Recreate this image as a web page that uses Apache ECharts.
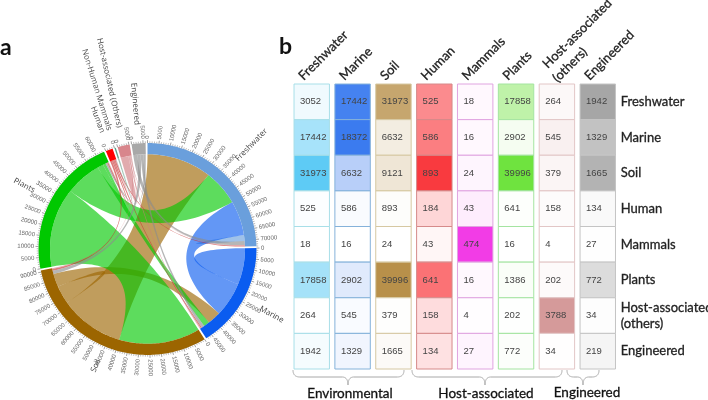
<!DOCTYPE html>
<html>
<head>
<meta charset="utf-8">
<style>html,body{margin:0;padding:0;background:#fff}#c{width:708px;height:400px}</style>
<script src="https://cdn.jsdelivr.net/npm/echarts@6/dist/echarts.min.js"></script>
</head>
<body>
<div id="c"></div>
<script>
// ---- data ----
const heatColumns = ['Freshwater','Marine','Soil','Human','Mammals','Plants','Host-associated\n(others)','Engineered'];
const heatRows = ['Freshwater','Marine','Soil','Human','Mammals','Plants','Host-associated\n(others)','Engineered'];
const chordNames = ['Freshwater','Marine','Soil','Human','Non-Human Mammals','Plants','Host-associated (Others)','Engineered'];
const freshwaterRow = [3052,17442,31973,525,18,17858,264,1942];
const marineRow     = [17442,18372,6632,586,16,2902,545,1329];
const soilRow       = [31973,6632,9121,893,24,39996,379,1665];
const humanRow      = [525,586,893,184,43,641,158,134];
const mammalsRow    = [18,16,24,43,474,16,4,27];
const plantsRow     = [17858,2902,39996,641,16,1386,202,772];
const hostRow       = [264,545,379,158,4,202,3788,34];
const engineeredRow = [1942,1329,1665,134,27,772,34,219];
const matrix = [freshwaterRow,marineRow,soilRow,humanRow,mammalsRow,plantsRow,hostRow,engineeredRow];
// clockwise order of the sectors round the ring
const ringOrder = [0,1,2,5,3,4,6,7];
// order in which the ribbons sit along each sector, clockwise
const sectorOrder = [
  [2,5,1,0,7,6,3,4],
  [1,0,2,5,7,3,6,4],
  [5,0,2,1,7,3,6,4],
  [2,5,1,0,3,6,7,4],
  [4,3,2,7,0,1,5,6],
  [2,0,1,5,7,3,6,4],
  [6,1,2,0,5,3,7,4],
  [0,2,1,5,7,3,6,4]
];
const ringColors = ['#6a9fdc','#0a5cf0','#9c6500','#ff0000','#5f9f86','#00c800','#d8868c','#a8a8a8'];
const linkColors = ['#6a9fdc','#0a5cf0','#9c6500','#c83030','#5f9f86','#00c800','#d07a80','#8c8c8c'];
const linkPriority = [1,2,3,5,6,4,7,8];
const cellMaxColors = ['#5ecbf5','#3b7bef','#b8904a','#f93a3f','#f23ce6','#6fe33f','#d59a9a','#a6a6a6'];
const cellBorders = ['#a8dfe8','#85b2da','#d6c8a2','#d68a8a','#e0a4e0','#a4e4a0','#e2c6c6','#c4c4c4'];

// ---- chord layout derived from the matrix ----
const totals = matrix.map(r => r.reduce((a,b)=>a+b,0));
const grand = totals.reduce((a,b)=>a+b,0);
const gapUnits = grand/352;
const axisMax = grand + gapUnits*8;
const starts = []; { let s = 0; ringOrder.forEach(i=>{ starts[i]=s; s+=totals[i]+gapUnits; }); }
// position of the link i->j inside sector i
const linkPos = matrix.map((r,i)=>{ const out=[]; let p=starts[i];
  sectorOrder[i].forEach(j=>{ out[j]=[p,p+r[j]]; p+=r[j]; }); return out; });
const ribbonData = [];
for (let i=0;i<8;i++) for (let j=i;j<8;j++) {
  let a=linkPos[i][j], b=linkPos[j][i];
  if (a[0]>b[0]) { const t=a; a=b; b=t; }
  const owner = linkPriority[i]>=linkPriority[j]?i:j;
  ribbonData.push({value:[a[0],a[1],b[0],b[1],owner,i===j?1:0], pr:linkPriority[owner]});
}
ribbonData.sort((x,y)=>x.pr-y.pr);
const ringData = totals.map((t,i)=>[starts[i],starts[i]+t,i]);
const tickData = [];
totals.forEach((t,i)=>{ for(let v=0;v<=t;v+=1000) tickData.push([starts[i]+v, v%5000===0?1:0, v]); });
const nameData = totals.map((t,i)=>[starts[i]+t/2,i]);

const R_OUT=109, R_IN=97.5, SQUASH=0.972;
function mapper(api){
  const c=api.coord([0,0]);
  return (r,u)=>{ const p=api.coord([r,u]); return [p[0], c[1]+(p[1]-c[1])*SQUASH]; };
}
function arcPts(pt,r,u0,u1){ const n=Math.max(1,Math.ceil(Math.abs(u1-u0)/(axisMax/360))); const o=[];
  for(let k=0;k<=n;k++) o.push(pt(r,u0+(u1-u0)*k/n)); return o; }
function bez(p0,c,p1){ const o=[]; for(let k=1;k<40;k++){ const t=k/40,m=1-t;
  o.push([m*m*p0[0]+2*m*t*c[0]+t*t*p1[0], m*m*p0[1]+2*m*t*c[1]+t*t*p1[1]]); } return o; }
function renderRibbon(params,api){
  const pt=mapper(api), c=pt(0,0);
  const a0=api.value(0),a1=api.value(1),b0=api.value(2),b1=api.value(3),own=api.value(4),self=api.value(5);
  let pts;
  if(self){ const A=arcPts(pt,R_IN,a0,a1); pts=A.concat(bez(A[A.length-1],c,A[0])); }
  else { const A=arcPts(pt,R_IN,a0,a1), B=arcPts(pt,R_IN,b0,b1);
    pts=A.concat(bez(A[A.length-1],c,B[0]),B,bez(B[B.length-1],c,A[0])); }
  return {type:'polygon',shape:{points:pts},style:{fill:linkColors[own],opacity:0.635,stroke:null},silent:true};
}
function renderRing(params,api){
  const pt=mapper(api), u0=api.value(0),u1=api.value(1);
  const pts=arcPts(pt,R_OUT,u0,u1).concat(arcPts(pt,R_IN,u1,u0));
  return {type:'polygon',shape:{points:pts},style:{fill:ringColors[api.value(2)],stroke:null},silent:true};
}
function radialText(pt,r,u,txt,style){
  const th=u/axisMax*360, right=th<=180, p=pt(r,u);
  const rot=(right?90-th:270-th)*Math.PI/180;
  return {type:'text',x:p[0],y:p[1],rotation:rot,silent:true,
    style:Object.assign({text:txt,align:right?'left':'right',verticalAlign:'middle'},style)};
}
function renderTick(params,api){
  const pt=mapper(api), u=api.value(0), major=api.value(1), v=api.value(2);
  const p0=pt(R_OUT,u), p1=pt(R_OUT+(major?3:1.8),u);
  const line={type:'line',shape:{x1:p0[0],y1:p0[1],x2:p1[0],y2:p1[1]},style:{stroke:'#777',lineWidth:major?0.7:0.5},silent:true};
  if(!major) return line;
  return {type:'group',children:[line,radialText(pt,113.5,u,String(v),{fontFamily:'Liberation Sans',fontSize:6,fill:'#666'})]};
}
function renderName(params,api){
  const pt=mapper(api), i=api.value(1);
  return radialText(pt,i===2?124:128,api.value(0),chordNames[i],{fontFamily:'Open Sans',fontSize:8,fill:'#444'});
}

// ---- heat table ----
const heatData=[];
matrix.forEach((r,y)=>r.forEach((v,x)=>heatData.push([x,y,v])));
const colMax = heatColumns.map((_,x)=>Math.max(...matrix.map(r=>r[x])));
function mix(hex,t){ const n=parseInt(hex.slice(1),16); const f=s=>Math.round(255-(255-((n>>s)&255))*t);
  return 'rgb('+f(16)+','+f(8)+','+f(0)+')'; }
function renderCell(params,api){
  const x=api.value(0),y=api.value(1),v=api.value(2);
  const c=api.coord([x,y]), s=api.size([1,1]);
  const w=s[0]*0.867, h=s[1];
  const left=c[0]-w/2, top=c[1]-h/2;
  return {type:'group',children:[
    {type:'rect',shape:{x:left,y:top,width:w,height:h},
     style:{fill:mix(cellMaxColors[x],v/colMax[x]),stroke:cellBorders[x],lineWidth:1},silent:true},
    {type:'text',x:left+6,y:c[1],silent:true,
     style:{text:String(v),fontFamily:'Liberation Sans',fontSize:9.5,fill:'#444',align:'left',verticalAlign:'middle'}}
  ]};
}
// slanted column headings, placed from the category axis
function renderHeading(params,api){
  const x=api.value(0), c=api.coord([x,0]), s=api.size([1,1]);
  const top=c[1]-s[1]/2, lines=heatColumns[x].split('\n');
  const offs=lines.length===1?[[-11,-6]]:[[-12,-18],[-2,-4]];
  return {type:'group',children:lines.map((t,k)=>({type:'text',x:c[0]+offs[k][0],y:top+offs[k][1],rotation:Math.PI/4,silent:true,
    style:{text:t,fontFamily:'Lato',fontSize:13,fill:'#222',stroke:'#222',lineWidth:0.3,align:'left',verticalAlign:'middle'}}))};
}
function brace(x0,x1,tip){
  const yA=370,yB=377,yT=385,o=[[x0,yA]];
  return o.concat(bez([x0,yA],[x0,yB],[x0+7,yB]),[[x0+7,yB],[tip-6,yB]],
    bez([tip-6,yB],[tip,yB],[tip,yT]),[[tip,yT]],
    bez([tip,yT],[tip,yB],[tip+6,yB]),[[tip+6,yB],[x1-7,yB]],
    bez([x1-7,yB],[x1,yB],[x1,yA]),[[x1,yA]]);
}
const braceStyle={stroke:'#a8a8a8',fill:null,lineWidth:1};
const labelFont={fontFamily:'Lato',fontSize:13.5,fill:'#111',align:'center',verticalAlign:'middle',stroke:'#111',lineWidth:0.3};

const chart=echarts.init(document.getElementById('c'),null,{renderer:'canvas'});
chart.setOption({
  animation:false,
  backgroundColor:'#fff',
  polar:{center:[147.5,249],radius:220},
  angleAxis:{type:'value',min:0,max:axisMax,startAngle:90,clockwise:true,show:false},
  radiusAxis:{type:'value',min:0,max:220,show:false},
  grid:{left:291.3,top:84,width:326.9,height:285,containLabel:false,outerBoundsMode:'none'},
  xAxis:{type:'category',position:'top',data:heatColumns,
    axisLine:{show:false},axisTick:{show:false},splitLine:{show:false},axisLabel:{show:false}},
  yAxis:{type:'category',position:'right',inverse:true,data:heatRows,
    axisLine:{show:false},axisTick:{show:false},splitLine:{show:false},
    axisLabel:{interval:0,margin:2.5,fontFamily:'Lato',fontSize:13,color:'#222',lineHeight:16,align:'left',padding:[0,0,7,0],textBorderColor:'#222',textBorderWidth:0.3}},
  series:[
    {type:'custom',coordinateSystem:'polar',silent:true,renderItem:renderRibbon,data:ribbonData.map(d=>d.value),z:2},
    {type:'custom',coordinateSystem:'polar',silent:true,renderItem:renderRing,data:ringData,z:3},
    {type:'custom',coordinateSystem:'polar',silent:true,renderItem:renderTick,data:tickData,z:3},
    {type:'custom',coordinateSystem:'polar',silent:true,renderItem:renderName,data:nameData,z:4},
    {type:'custom',coordinateSystem:'cartesian2d',silent:true,renderItem:renderCell,data:heatData,encode:{x:0,y:1},z:2},
    {type:'custom',coordinateSystem:'cartesian2d',silent:true,renderItem:renderHeading,data:heatColumns.map((_,x)=>[x,0]),encode:{x:0,y:1},z:4}
  ],
  graphic:[
    {type:'text',x:0,y:36,silent:true,style:{text:'a',fontFamily:'Lato',fontWeight:'bold',fontSize:23,fill:'#111'}},
    {type:'text',x:279,y:35,silent:true,style:{text:'b',fontFamily:'Lato',fontWeight:'bold',fontSize:23,fill:'#111'}},
    {type:'polyline',silent:true,shape:{points:brace(293,404,348)},style:braceStyle},
    {type:'polyline',silent:true,shape:{points:brace(412,562,485)},style:braceStyle},
    {type:'polyline',silent:true,shape:{points:brace(567,599,583)},style:braceStyle},
    {type:'text',x:350,y:394,silent:true,style:Object.assign({text:'Environmental'},labelFont)},
    {type:'text',x:486,y:394,silent:true,style:Object.assign({text:'Host-associated'},labelFont)},
    {type:'text',x:587,y:393,silent:true,style:Object.assign({text:'Engineered'},labelFont)}
  ]
});
</script>
</body>
</html>
